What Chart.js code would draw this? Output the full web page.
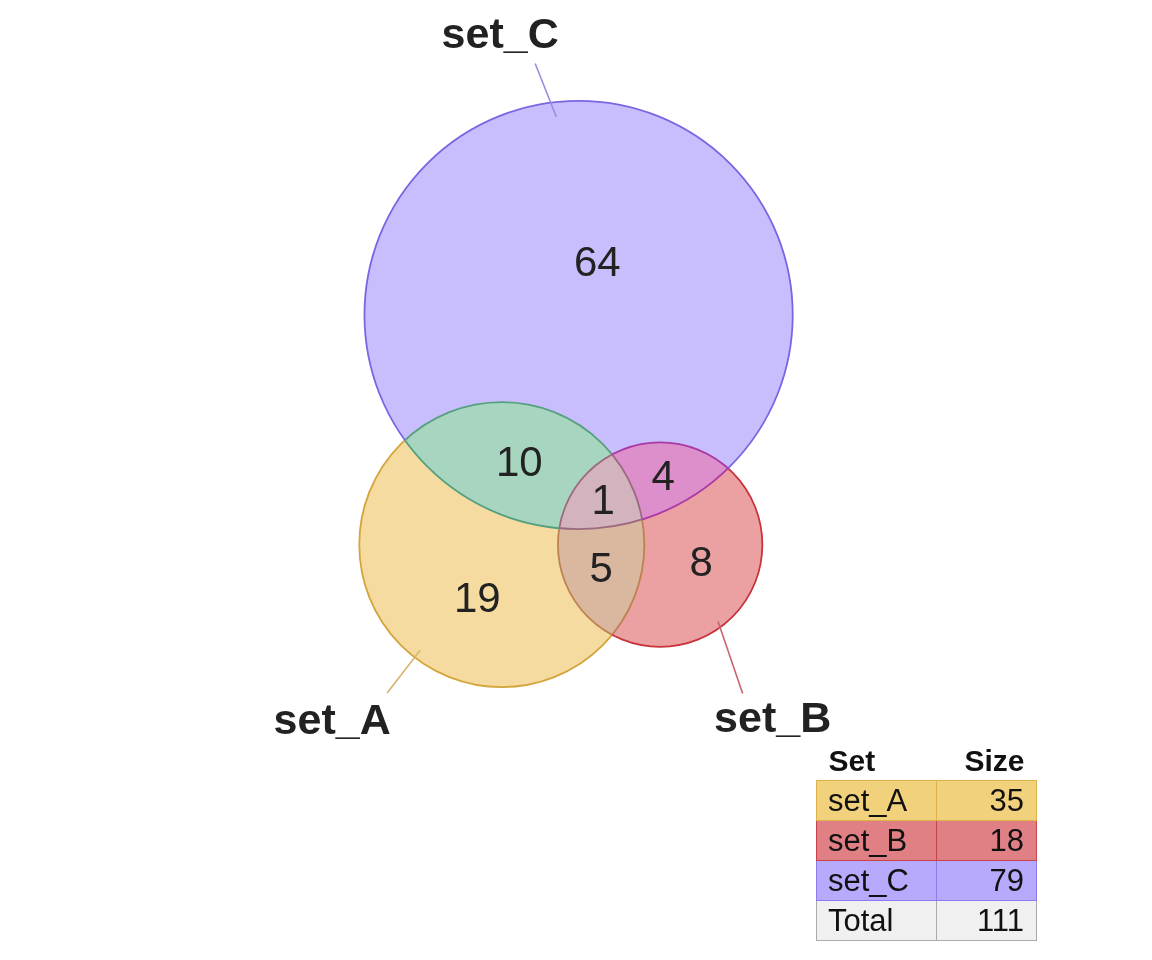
<!DOCTYPE html>
<html>
<head>
<meta charset="utf-8">
<script src="https://cdn.jsdelivr.net/npm/chart.js@4.4.1/dist/chart.umd.min.js"></script>
<style>
html, body { margin: 0; padding: 0; background: #fff; }
#wrap { position: relative; width: 1152px; height: 960px; }
#tabla { position: absolute; left: 816px; top: 741px; border-collapse: collapse;
  font-family: "Liberation Sans", Arial, sans-serif; font-size: 31px; color: #111; }
#tabla th { font-weight: bold; font-size: 30px; height: 39px; padding: 0 12px; line-height: 39px; }
#tabla td { height: 39px; line-height: 39px; padding: 0 12px 0 11px; border: 1px solid #aaa; }
#tabla .izq { text-align: left; width: 96px; }
#tabla .der { text-align: right; width: 76px; }
</style>
</head>
<body>
<div id="wrap">
  <canvas id="venn"></canvas>
  <table id="tabla"></table>
</div>
<script>
// DATOS
const setNames = ['set_A', 'set_B', 'set_C'];
const setSizes = [35, 18, 79];
const regionKeys = ['A', 'B', 'C', 'AB', 'AC', 'BC', 'ABC'];
const regionCounts = [19, 8, 64, 5, 10, 4, 1];
const totalCount = 111;
// ----------------

// ESTILOS
const regionFill = {
    A: '#F5DBA0', B: '#EBA0A2', C: '#C8BEFE',
    AB: '#DAB8A0', AC: '#A7D5BF', BC: '#DD8FCC', ABC: '#D2B3BE'
};
const regionStroke = {
    A: '#D3A53C', B: '#C8343C', C: '#7A66E2',
    AB: '#BE8250', AC: '#55A07E', BC: '#AA3AA6', ABC: '#9C6A7E'
};
const leaderColor = ['#D6B46E', '#C8646E', '#9A8CE2'];
const tableFill = ['#F2D17D', '#E08085', '#B7A9FB'];
const tableBorder = ['#DDB24A', '#C8444C', '#8E7AF0'];
const fontFamily = '"Liberation Sans", Arial, sans-serif';
// angulo del trazo (grados, pantalla), inicio dentro del circulo, fin fuera, desplazamiento del texto
const labelLayout = [
    { a0: 127.7, start: -9, a1: 127.7, end: 45, dx: -55, dy: 41 },
    { a0: 53, start: -6, a1: 61, end: 68, dx: 30, dy: 38 },
    { a0: -96.4, start: -15, a1: -99.8, end: 41, dx: -35, dy: -16 }
];
const pxPerUnit = 42.7;
const viewCenter = [576, 394];

// LAYOUT: radios por area y distancias por solapamiento de pares
const letters = ['A', 'B', 'C'];
const radii = setSizes.map(s => Math.sqrt(s / Math.PI));
const overlap = (i, j) => regionKeys.reduce((acc, k, n) =>
    (k.includes(letters[i]) && k.includes(letters[j])) ? acc + regionCounts[n] : acc, 0);

const lensArea = (r1, r2, d) => {
    if (d >= r1 + r2) return 0;
    if (d <= Math.abs(r1 - r2)) return Math.PI * Math.min(r1, r2) ** 2;
    const a = r1 * r1 * Math.acos((d * d + r1 * r1 - r2 * r2) / (2 * d * r1));
    const b = r2 * r2 * Math.acos((d * d + r2 * r2 - r1 * r1) / (2 * d * r2));
    const c = 0.5 * Math.sqrt((-d + r1 + r2) * (d + r1 - r2) * (d - r1 + r2) * (d + r1 + r2));
    return a + b - c;
};
const distFor = (r1, r2, target) => {
    let lo = Math.abs(r1 - r2), hi = r1 + r2;
    for (let i = 0; i < 60; i++) {
        const mid = (lo + hi) / 2;
        if (lensArea(r1, r2, mid) > target) lo = mid; else hi = mid;
    }
    return (lo + hi) / 2;
};
const dAB = distFor(radii[0], radii[1], overlap(0, 1));
const dAC = distFor(radii[0], radii[2], overlap(0, 2));
const dBC = distFor(radii[1], radii[2], overlap(1, 2));
const cxC = (dAC * dAC - dBC * dBC + dAB * dAB) / (2 * dAB);
const centers = [[0, 0], [dAB, 0], [cxC, Math.sqrt(dAC * dAC - cxC * cxC)]];

const xs0 = Math.min(...centers.map((c, i) => c[0] - radii[i]));
const xs1 = Math.max(...centers.map((c, i) => c[0] + radii[i]));
const ys0 = Math.min(...centers.map((c, i) => c[1] - radii[i]));
const ys1 = Math.max(...centers.map((c, i) => c[1] + radii[i]));
const xMin = (xs0 + xs1) / 2 - viewCenter[0] / pxPerUnit;
const yMax = (ys0 + ys1) / 2 + viewCenter[1] / pxPerUnit;

const unitPx = chart => chart.scales.x.getPixelForValue(1) - chart.scales.x.getPixelForValue(0);

// DIBUJO DE REGIONES Y ETIQUETAS
// recorta a la region 'key'; el circulo 'skip' no se usa como condicion
const clipRegion = (ctx, circles, key, w, h, skip) => {
    circles.forEach((c, i) => {
        if (i === skip) return;
        const dentro = key.includes(letters[i]);
        ctx.beginPath();
        if (!dentro) ctx.rect(0, 0, w, h);
        ctx.arc(c.x, c.y, c.r, 0, Math.PI * 2);
        ctx.clip(dentro ? 'nonzero' : 'evenodd');
    });
};

const vennPlugin = {
    id: 'venn',
    afterDatasetsDraw(chart) {
        const ctx = chart.ctx;
        const w = chart.width, h = chart.height;
        const k = unitPx(chart);
        const circles = chart.getDatasetMeta(0).data.map((p, i) => ({ x: p.x, y: p.y, r: radii[i] * k }));

        regionKeys.forEach(key => {
            ctx.save();
            clipRegion(ctx, circles, key, w, h, -1);
            ctx.fillStyle = regionFill[key];
            ctx.fillRect(0, 0, w, h);
            ctx.restore();
        });

        // cada arco toma el color de la region que queda por dentro del circulo
        circles.forEach((c, i) => {
            regionKeys.filter(key => key.includes(letters[i])).forEach(key => {
                ctx.save();
                clipRegion(ctx, circles, key, w, h, i);
                ctx.strokeStyle = regionStroke[key];
                ctx.lineWidth = 1.8;
                ctx.beginPath();
                ctx.arc(c.x, c.y, c.r, 0, Math.PI * 2);
                ctx.stroke();
                ctx.restore();
            });
        });

        // posicion de cada numero: punto mas alejado del borde de su region
        const best = regionKeys.map(() => ({ d: -1, x: 0, y: 0 }));
        const bx0 = Math.min(...circles.map(c => c.x - c.r)), bx1 = Math.max(...circles.map(c => c.x + c.r));
        const by0 = Math.min(...circles.map(c => c.y - c.r)), by1 = Math.max(...circles.map(c => c.y + c.r));
        for (let x = bx0; x <= bx1; x += 2) {
            for (let y = by0; y <= by1; y += 2) {
                let key = '';
                let dmin = Infinity;
                circles.forEach((c, i) => {
                    const dc = Math.hypot(x - c.x, y - c.y);
                    if (dc < c.r) key += letters[i];
                    dmin = Math.min(dmin, Math.abs(dc - c.r));
                });
                const n = regionKeys.indexOf(key);
                if (n >= 0 && dmin > best[n].d) best[n] = { d: dmin, x, y };
            }
        }
        ctx.fillStyle = '#222';
        ctx.textAlign = 'center';
        ctx.textBaseline = 'alphabetic';
        ctx.font = '42px ' + fontFamily;
        regionCounts.forEach((v, n) => {
            ctx.fillText(String(v), best[n].x, best[n].y + 15);
        });

        // nombres de los conjuntos con su trazo
        ctx.font = 'bold 43px ' + fontFamily;
        circles.forEach((c, i) => {
            const L = labelLayout[i];
            const a0 = L.a0 * Math.PI / 180, a1 = L.a1 * Math.PI / 180;
            const x0 = c.x + (c.r + L.start) * Math.cos(a0), y0 = c.y + (c.r + L.start) * Math.sin(a0);
            const x1 = c.x + (c.r + L.end) * Math.cos(a1), y1 = c.y + (c.r + L.end) * Math.sin(a1);
            ctx.strokeStyle = leaderColor[i];
            ctx.lineWidth = 1.6;
            ctx.beginPath();
            ctx.moveTo(x0, y0);
            ctx.lineTo(x1, y1);
            ctx.stroke();
            ctx.fillStyle = '#222';
            ctx.fillText(setNames[i], x1 + L.dx, y1 + L.dy);
        });
    }
};

const vennChart = new Chart(document.getElementById('venn'), {
    type: 'scatter',
    data: {
        datasets: [{
            label: 'venn',
            data: centers.map(c => ({ x: c[0], y: c[1] })),
            pointRadius: 0,
            borderWidth: 0
        }]
    },
    options: {
        responsive: true,
        maintainAspectRatio: false,
        animation: false,
        events: [],
        layout: { padding: 0, autoPadding: false },
        scales: {
            x: { type: 'linear', display: false, min: xMin, max: xMin + 1152 / pxPerUnit },
            y: { type: 'linear', display: false, min: yMax - 960 / pxPerUnit, max: yMax }
        },
        plugins: { legend: { display: false }, tooltip: { enabled: false } }
    },
    plugins: [vennPlugin]
});

// TABLA DE TAMANOS
const tabla = document.getElementById('tabla');
let filas = '<tr><th class="izq">Set</th><th class="der">Size</th></tr>';
setNames.forEach((nombre, i) => {
    const estilo = `background:${tableFill[i]};border-color:${tableBorder[i]}`;
    filas += `<tr><td class="izq" style="${estilo}">${nombre}</td><td class="der" style="${estilo}">${setSizes[i]}</td></tr>`;
});
filas += `<tr><td class="izq" style="background:#F0F0F0">Total</td><td class="der" style="background:#F0F0F0">${totalCount}</td></tr>`;
tabla.innerHTML = filas;
</script>
</body>
</html>
